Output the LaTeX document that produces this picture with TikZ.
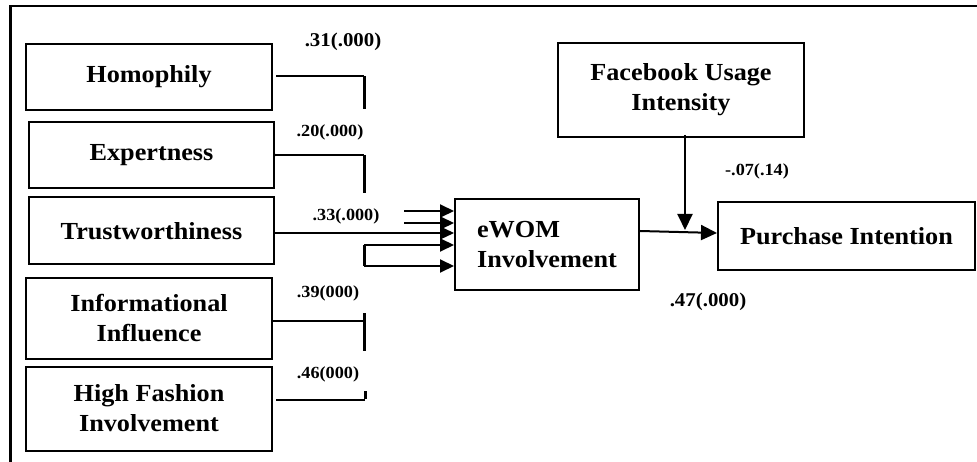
\documentclass[tikz,border=0pt]{standalone}
\usepackage{fontspec}
\setmainfont{Liberation Serif}[FakeStretch=1.07]
\usetikzlibrary{arrows.meta}
\begin{document}
\begin{tikzpicture}[x=1pt,y=-1pt,
  box/.style={draw, line width=2pt, inner sep=0pt, align=center,
    font=\bfseries\fontsize{24.5}{30}\selectfont},
  lab/.style={inner sep=0pt, font=\bfseries\fontsize{17}{20}\selectfont},
  labbig/.style={inner sep=0pt, font=\bfseries\fontsize{19.5}{22}\selectfont},
  bline/.style={line width=2pt},
  vline/.style={line width=3pt},
  thinline/.style={line width=1.1pt},
  arr/.style={line width=2pt, -{Triangle[length=14pt,width=13pt]}},
  arrthin/.style={line width=1.1pt, -{Triangle[length=14pt,width=13pt]}},
  bigarr/.style={line width=2pt, -{Triangle[length=16pt,width=15pt]}}]
\useasboundingbox (0,0) rectangle (977,462);
% outer frame (top and left edges)
\draw[line width=2.5pt] (10.5,462) -- (10.5,6) -- (977,6);

% boxes
\node[box, minimum width=246pt, minimum height=66pt] (homo) at (149,77) {Homophily};
\node[box, minimum width=245pt, minimum height=66pt] (exp) at (151.5,155) {Expertness};
\node[box, minimum width=245pt, minimum height=67pt] (trust) at (151.5,231) {Trustworthiness};
\node[box, minimum width=246pt, minimum height=81pt] (info) at (149,318.5) {Informational\\Influence};
\node[box, minimum width=246pt, minimum height=84pt] (hfi) at (149,408.5) {High Fashion\\Involvement};
\node[box, minimum width=184pt, minimum height=91pt, align=left] (ewom) at (547,244.5) {eWOM\\Involvement};
\node[box, minimum width=257pt, minimum height=68pt] (pi) at (846.5,236) {Purchase Intention};
\node[box, minimum width=246pt, minimum height=94pt] (fb) at (681,90) {Facebook Usage\\Intensity};

% labels
\node[labbig] (l31) at (343,42) {.31(.000)};
\node[lab] (l20) at (330,132) {.20(.000)};
\node[lab] (l33) at (346,216) {.33(.000)};
\node[lab] (l39) at (328,293) {.39(000)};
\node[lab] (l46) at (328,374) {.46(000)};
\node[lab] (l07) at (757,171) {-.07(.14)};
\node[labbig] (l47) at (708,302) {.47(.000)};

% helper coordinates
\coordinate (hcorner) at (364,76);
\coordinate (hend) at (364,109);
\coordinate (ecorner) at (364,155);
\coordinate (eend) at (364,193);
\coordinate (y233) at (0,233);
\coordinate (a1) at (404,211);
\coordinate (a2) at (404,223);
\coordinate (b1) at (364,245);
\coordinate (b2) at (364,266);
\coordinate (icorner) at (364,321);
\coordinate (itop) at (364,313);
\coordinate (ibot) at (364,351);
\coordinate (fcorner) at (365,400);
\coordinate (fend) at (365,391);
\coordinate (y231) at (0,231);
\coordinate (mod) at (685,230);
\coordinate (fbx) at (685,0);

% Homophily bracket
\draw[bline] ([xshift=3pt]homo.east |- hcorner) -- (hcorner);
\draw[vline] (hcorner) -- (hend);
% Expertness bracket
\draw[thinline] (exp.east) -- (ecorner);
\fill (exp.east) circle (1.3pt);
\draw[vline] (ecorner) -- (eend);
% Trustworthiness arrow
\draw[arrthin] (trust.east |- y233) -- (ewom.west |- y233);
\draw[bline] (trust.east |- y233) -- ++(19,0);
\draw[bline] (a2 |- y233) -- ++(30,0);
% short arrows
\draw[arr] (a1) -- (ewom.west |- a1);
\draw[arr] (a2) -- (ewom.west |- a2);
% lower bracket arrows
\draw[vline] (b1) -- (b2);
\draw[arr] (b1) -- (ewom.west |- b1);
\draw[arr] (b2) -- (ewom.west |- b2);
% Informational Influence bracket
\draw[bline] (info.east |- icorner) -- (icorner);
\draw[vline] (itop) -- (ibot);
% High Fashion bracket
\draw[bline] ([xshift=3pt]hfi.east |- fcorner) -- (fcorner);
\draw[vline] ([yshift=1pt]fcorner) -- (fend);
% eWOM -> Purchase Intention
\draw[bigarr] (ewom.east |- y231) -- (pi.west |- y233);
% Facebook moderation
\draw[bigarr] ([yshift=3pt]fbx |- fb.south) -- (mod);
\end{tikzpicture}
\end{document}
